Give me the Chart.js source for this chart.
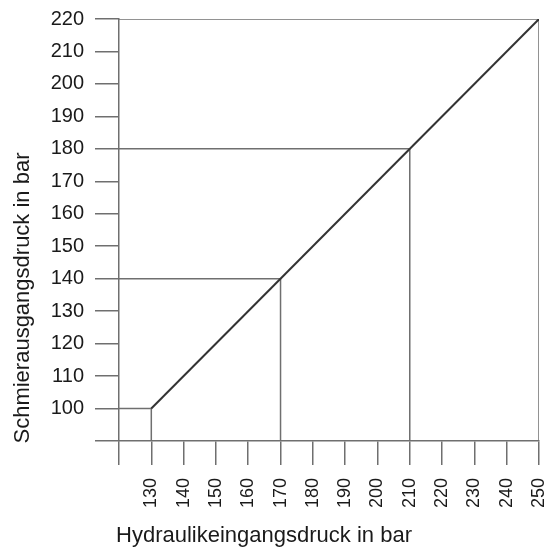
<!DOCTYPE html>
<html>
<head>
<meta charset="utf-8">
<script src="https://cdn.jsdelivr.net/npm/chart.js@4.4.0/dist/chart.umd.min.js"></script>
<style>
  html, body { margin: 0; padding: 0; background: #fff; }
  #box { width: 552px; height: 551px; }
</style>
</head>
<body>
<div id="box"><canvas id="grafico"></canvas></div>
<script>
// Achsenbereich
const eingangMin = 120;
const eingangMax = 250;
const ausgangMin = 90;
const ausgangMax = 220;

// Kennlinie (Hydraulikeingang -> Schmierausgang)
const kennlinieEingang = [130, 250];
const kennlinieAusgang = [100, 220];

// Ablesehilfen
const hilfeEingang = [130, 170, 210];
const hilfeAusgang = [100, 140, 180];

const titelX = "Hydraulikeingangsdruck in bar";
const titelY = "Schmierausgangsdruck in bar";

const grau = "#6f6f6f";
const textFarbe = "#1a1a1a";

const datasets = [];

// Kennlinie
datasets.push({
  data: kennlinieEingang.map((x, i) => ({ x: x, y: kennlinieAusgang[i] })),
  showLine: true,
  borderColor: "#333",
  borderWidth: 2,
  pointRadius: 0,
});

// Hilfslinien: waagerecht von der y-Achse, dann senkrecht zur x-Achse
for (let i = 0; i < hilfeEingang.length; i++) {
  datasets.push({
    data: [
      { x: eingangMin, y: hilfeAusgang[i] },
      { x: hilfeEingang[i], y: hilfeAusgang[i] },
      { x: hilfeEingang[i], y: ausgangMin },
    ],
    showLine: true,
    borderColor: grau,
    borderWidth: 1.5,
    pointRadius: 0,
  });
}

// Rahmen oben und rechts
datasets.push({
  data: [
    { x: eingangMin, y: ausgangMax },
    { x: eingangMax, y: ausgangMax },
    { x: eingangMax, y: ausgangMin },
  ],
  showLine: true,
  borderColor: grau,
  borderWidth: 1.5,
  pointRadius: 0,
});

// Achsentitel selbst zeichnen
const achsenTitel = {
  id: "achsenTitel",
  afterDraw(chart) {
    const ctx = chart.ctx;
    ctx.save();
    ctx.fillStyle = textFarbe;
    ctx.font = "22px 'Liberation Sans', Arial, sans-serif";
    ctx.textAlign = "center";
    ctx.textBaseline = "alphabetic";
    ctx.fillText(titelX, 264, 542);
    ctx.translate(29, 298);
    ctx.rotate(-Math.PI / 2);
    ctx.fillText(titelY, 0, 0);
    ctx.restore();
  },
};

const config = {
  type: "scatter",
  data: { datasets: datasets },
  options: {
    responsive: true,
    maintainAspectRatio: false,
    animation: false,
    layout: { padding: { top: 19, right: 13, left: 0, bottom: 0 } },
    plugins: {
      legend: { display: false },
      tooltip: { enabled: false },
    },
    scales: {
      x: {
        type: "linear",
        min: eingangMin,
        max: eingangMax,
        afterFit: (scale) => {
          scale.height = 110;
          scale.paddingLeft = 0;
          scale.paddingRight = 0;
        },
        grid: {
          drawOnChartArea: false,
          color: grau,
          lineWidth: 1.5,
          tickLength: 24,
        },
        border: { display: true, color: grau, width: 1.5 },
        ticks: {
          stepSize: 10,
          minRotation: 90,
          maxRotation: 90,
          padding: 13,
          color: textFarbe,
          font: { family: "'Liberation Sans', Arial, sans-serif", size: 18 },
          callback: (v) => (v === eingangMin ? "" : v),
        },
      },
      y: {
        type: "linear",
        min: ausgangMin,
        max: ausgangMax,
        afterFit: (scale) => {
          scale.width = 119;
          scale.paddingTop = 0;
          scale.paddingBottom = 0;
        },
        grid: {
          drawOnChartArea: false,
          color: grau,
          lineWidth: 1.5,
          tickLength: 24,
        },
        border: { display: true, color: grau, width: 1.5 },
        ticks: {
          stepSize: 10,
          padding: 11,
          color: textFarbe,
          font: { family: "'Liberation Sans', Arial, sans-serif", size: 20 },
          callback: (v) => (v === ausgangMin ? "" : v),
        },
      },
    },
  },
  plugins: [achsenTitel],
};

const grafico = new Chart(document.getElementById("grafico"), config);
</script>
</body>
</html>
